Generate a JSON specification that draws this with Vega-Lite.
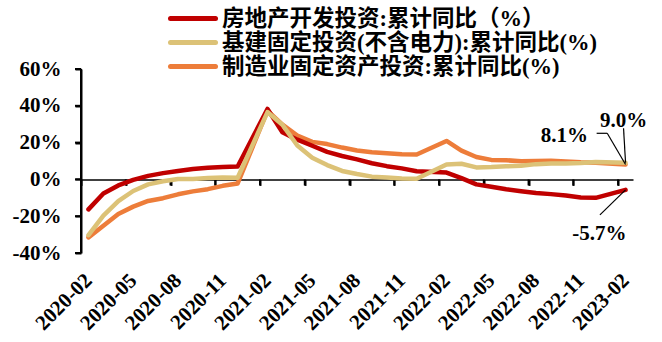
{
  "$schema": "https://vega.github.io/schema/vega-lite/v6.json",
  "width": 552,
  "height": 184,
  "autosize": {"type": "none"},
  "padding": {"left": 81, "top": 69, "right": 29, "bottom": 89},
  "config": {
    "font": "Liberation Serif",
    "view": {"stroke": null},
    "axis": {"grid": false}
  },
  "data": {
    "values": [
      {"kind": "yspan", "month": "2020-02", "value": -40, "top": 60},
      {"kind": "ytick", "month": "2020-02", "value": -40},
      {"kind": "ytick", "month": "2020-02", "value": -20},
      {"kind": "ytick", "month": "2020-02", "value": 0},
      {"kind": "ytick", "month": "2020-02", "value": 20},
      {"kind": "ytick", "month": "2020-02", "value": 40},
      {"kind": "ytick", "month": "2020-02", "value": 60},
      {"kind": "xtick", "month": "2020-02", "value": 0},
      {"kind": "xtick", "month": "2020-05", "value": 0},
      {"kind": "xtick", "month": "2020-08", "value": 0},
      {"kind": "xtick", "month": "2020-11", "value": 0},
      {"kind": "xtick", "month": "2021-02", "value": 0},
      {"kind": "xtick", "month": "2021-05", "value": 0},
      {"kind": "xtick", "month": "2021-08", "value": 0},
      {"kind": "xtick", "month": "2021-11", "value": 0},
      {"kind": "xtick", "month": "2022-02", "value": 0},
      {"kind": "xtick", "month": "2022-05", "value": 0},
      {"kind": "xtick", "month": "2022-08", "value": 0},
      {"kind": "xtick", "month": "2022-11", "value": 0},
      {"kind": "xtick", "month": "2023-02", "value": 0},

      {"kind": "series", "series": "制造业固定资产投资:累计同比(%)", "month": "2020-02", "value": -31.5},
      {"kind": "series", "series": "制造业固定资产投资:累计同比(%)", "month": "2020-03", "value": -25.2},
      {"kind": "series", "series": "制造业固定资产投资:累计同比(%)", "month": "2020-04", "value": -18.8},
      {"kind": "series", "series": "制造业固定资产投资:累计同比(%)", "month": "2020-05", "value": -14.8},
      {"kind": "series", "series": "制造业固定资产投资:累计同比(%)", "month": "2020-06", "value": -11.7},
      {"kind": "series", "series": "制造业固定资产投资:累计同比(%)", "month": "2020-07", "value": -10.2},
      {"kind": "series", "series": "制造业固定资产投资:累计同比(%)", "month": "2020-08", "value": -8.1},
      {"kind": "series", "series": "制造业固定资产投资:累计同比(%)", "month": "2020-09", "value": -6.5},
      {"kind": "series", "series": "制造业固定资产投资:累计同比(%)", "month": "2020-10", "value": -5.3},
      {"kind": "series", "series": "制造业固定资产投资:累计同比(%)", "month": "2020-11", "value": -3.5},
      {"kind": "series", "series": "制造业固定资产投资:累计同比(%)", "month": "2020-12", "value": -2.2},
      {"kind": "series", "series": "制造业固定资产投资:累计同比(%)", "month": "2021-02", "value": 37.3},
      {"kind": "series", "series": "制造业固定资产投资:累计同比(%)", "month": "2021-03", "value": 29.8},
      {"kind": "series", "series": "制造业固定资产投资:累计同比(%)", "month": "2021-04", "value": 23.8},
      {"kind": "series", "series": "制造业固定资产投资:累计同比(%)", "month": "2021-05", "value": 20.4},
      {"kind": "series", "series": "制造业固定资产投资:累计同比(%)", "month": "2021-06", "value": 19.2},
      {"kind": "series", "series": "制造业固定资产投资:累计同比(%)", "month": "2021-07", "value": 17.3},
      {"kind": "series", "series": "制造业固定资产投资:累计同比(%)", "month": "2021-08", "value": 15.7},
      {"kind": "series", "series": "制造业固定资产投资:累计同比(%)", "month": "2021-09", "value": 14.8},
      {"kind": "series", "series": "制造业固定资产投资:累计同比(%)", "month": "2021-10", "value": 14.2},
      {"kind": "series", "series": "制造业固定资产投资:累计同比(%)", "month": "2021-11", "value": 13.7},
      {"kind": "series", "series": "制造业固定资产投资:累计同比(%)", "month": "2021-12", "value": 13.5},
      {"kind": "series", "series": "制造业固定资产投资:累计同比(%)", "month": "2022-02", "value": 20.9},
      {"kind": "series", "series": "制造业固定资产投资:累计同比(%)", "month": "2022-03", "value": 15.6},
      {"kind": "series", "series": "制造业固定资产投资:累计同比(%)", "month": "2022-04", "value": 12.2},
      {"kind": "series", "series": "制造业固定资产投资:累计同比(%)", "month": "2022-05", "value": 10.6},
      {"kind": "series", "series": "制造业固定资产投资:累计同比(%)", "month": "2022-06", "value": 10.4},
      {"kind": "series", "series": "制造业固定资产投资:累计同比(%)", "month": "2022-07", "value": 9.9},
      {"kind": "series", "series": "制造业固定资产投资:累计同比(%)", "month": "2022-08", "value": 10.0},
      {"kind": "series", "series": "制造业固定资产投资:累计同比(%)", "month": "2022-09", "value": 10.1},
      {"kind": "series", "series": "制造业固定资产投资:累计同比(%)", "month": "2022-10", "value": 9.7},
      {"kind": "series", "series": "制造业固定资产投资:累计同比(%)", "month": "2022-11", "value": 9.3},
      {"kind": "series", "series": "制造业固定资产投资:累计同比(%)", "month": "2022-12", "value": 9.1},
      {"kind": "series", "series": "制造业固定资产投资:累计同比(%)", "month": "2023-02", "value": 8.1},

      {"kind": "series", "series": "房地产开发投资:累计同比（%）", "month": "2020-02", "value": -16.3},
      {"kind": "series", "series": "房地产开发投资:累计同比（%）", "month": "2020-03", "value": -7.7},
      {"kind": "series", "series": "房地产开发投资:累计同比（%）", "month": "2020-04", "value": -3.3},
      {"kind": "series", "series": "房地产开发投资:累计同比（%）", "month": "2020-05", "value": -0.3},
      {"kind": "series", "series": "房地产开发投资:累计同比（%）", "month": "2020-06", "value": 1.9},
      {"kind": "series", "series": "房地产开发投资:累计同比（%）", "month": "2020-07", "value": 3.4},
      {"kind": "series", "series": "房地产开发投资:累计同比（%）", "month": "2020-08", "value": 4.6},
      {"kind": "series", "series": "房地产开发投资:累计同比（%）", "month": "2020-09", "value": 5.6},
      {"kind": "series", "series": "房地产开发投资:累计同比（%）", "month": "2020-10", "value": 6.3},
      {"kind": "series", "series": "房地产开发投资:累计同比（%）", "month": "2020-11", "value": 6.8},
      {"kind": "series", "series": "房地产开发投资:累计同比（%）", "month": "2020-12", "value": 7.0},
      {"kind": "series", "series": "房地产开发投资:累计同比（%）", "month": "2021-02", "value": 38.3},
      {"kind": "series", "series": "房地产开发投资:累计同比（%）", "month": "2021-03", "value": 25.6},
      {"kind": "series", "series": "房地产开发投资:累计同比（%）", "month": "2021-04", "value": 21.6},
      {"kind": "series", "series": "房地产开发投资:累计同比（%）", "month": "2021-05", "value": 18.3},
      {"kind": "series", "series": "房地产开发投资:累计同比（%）", "month": "2021-06", "value": 15.0},
      {"kind": "series", "series": "房地产开发投资:累计同比（%）", "month": "2021-07", "value": 12.7},
      {"kind": "series", "series": "房地产开发投资:累计同比（%）", "month": "2021-08", "value": 10.9},
      {"kind": "series", "series": "房地产开发投资:累计同比（%）", "month": "2021-09", "value": 8.8},
      {"kind": "series", "series": "房地产开发投资:累计同比（%）", "month": "2021-10", "value": 7.2},
      {"kind": "series", "series": "房地产开发投资:累计同比（%）", "month": "2021-11", "value": 6.0},
      {"kind": "series", "series": "房地产开发投资:累计同比（%）", "month": "2021-12", "value": 4.4},
      {"kind": "series", "series": "房地产开发投资:累计同比（%）", "month": "2022-02", "value": 3.7},
      {"kind": "series", "series": "房地产开发投资:累计同比（%）", "month": "2022-03", "value": 0.7},
      {"kind": "series", "series": "房地产开发投资:累计同比（%）", "month": "2022-04", "value": -2.7},
      {"kind": "series", "series": "房地产开发投资:累计同比（%）", "month": "2022-05", "value": -4.0},
      {"kind": "series", "series": "房地产开发投资:累计同比（%）", "month": "2022-06", "value": -5.4},
      {"kind": "series", "series": "房地产开发投资:累计同比（%）", "month": "2022-07", "value": -6.4},
      {"kind": "series", "series": "房地产开发投资:累计同比（%）", "month": "2022-08", "value": -7.4},
      {"kind": "series", "series": "房地产开发投资:累计同比（%）", "month": "2022-09", "value": -8.0},
      {"kind": "series", "series": "房地产开发投资:累计同比（%）", "month": "2022-10", "value": -8.8},
      {"kind": "series", "series": "房地产开发投资:累计同比（%）", "month": "2022-11", "value": -9.8},
      {"kind": "series", "series": "房地产开发投资:累计同比（%）", "month": "2022-12", "value": -10.0},
      {"kind": "series", "series": "房地产开发投资:累计同比（%）", "month": "2023-02", "value": -5.7},

      {"kind": "series", "series": "基建固定投资(不含电力):累计同比(%)", "month": "2020-02", "value": -30.3},
      {"kind": "series", "series": "基建固定投资(不含电力):累计同比(%)", "month": "2020-03", "value": -19.7},
      {"kind": "series", "series": "基建固定投资(不含电力):累计同比(%)", "month": "2020-04", "value": -11.8},
      {"kind": "series", "series": "基建固定投资(不含电力):累计同比(%)", "month": "2020-05", "value": -6.3},
      {"kind": "series", "series": "基建固定投资(不含电力):累计同比(%)", "month": "2020-06", "value": -2.7},
      {"kind": "series", "series": "基建固定投资(不含电力):累计同比(%)", "month": "2020-07", "value": -1.0},
      {"kind": "series", "series": "基建固定投资(不含电力):累计同比(%)", "month": "2020-08", "value": 0.2},
      {"kind": "series", "series": "基建固定投资(不含电力):累计同比(%)", "month": "2020-09", "value": 0.2},
      {"kind": "series", "series": "基建固定投资(不含电力):累计同比(%)", "month": "2020-10", "value": 0.7},
      {"kind": "series", "series": "基建固定投资(不含电力):累计同比(%)", "month": "2020-11", "value": 1.0},
      {"kind": "series", "series": "基建固定投资(不含电力):累计同比(%)", "month": "2020-12", "value": 0.9},
      {"kind": "series", "series": "基建固定投资(不含电力):累计同比(%)", "month": "2021-02", "value": 36.6},
      {"kind": "series", "series": "基建固定投资(不含电力):累计同比(%)", "month": "2021-03", "value": 29.7},
      {"kind": "series", "series": "基建固定投资(不含电力):累计同比(%)", "month": "2021-04", "value": 18.4},
      {"kind": "series", "series": "基建固定投资(不含电力):累计同比(%)", "month": "2021-05", "value": 11.8},
      {"kind": "series", "series": "基建固定投资(不含电力):累计同比(%)", "month": "2021-06", "value": 7.8},
      {"kind": "series", "series": "基建固定投资(不含电力):累计同比(%)", "month": "2021-07", "value": 4.6},
      {"kind": "series", "series": "基建固定投资(不含电力):累计同比(%)", "month": "2021-08", "value": 2.9},
      {"kind": "series", "series": "基建固定投资(不含电力):累计同比(%)", "month": "2021-09", "value": 1.5},
      {"kind": "series", "series": "基建固定投资(不含电力):累计同比(%)", "month": "2021-10", "value": 1.0},
      {"kind": "series", "series": "基建固定投资(不含电力):累计同比(%)", "month": "2021-11", "value": 0.5},
      {"kind": "series", "series": "基建固定投资(不含电力):累计同比(%)", "month": "2021-12", "value": 0.4},
      {"kind": "series", "series": "基建固定投资(不含电力):累计同比(%)", "month": "2022-02", "value": 8.1},
      {"kind": "series", "series": "基建固定投资(不含电力):累计同比(%)", "month": "2022-03", "value": 8.5},
      {"kind": "series", "series": "基建固定投资(不含电力):累计同比(%)", "month": "2022-04", "value": 6.5},
      {"kind": "series", "series": "基建固定投资(不含电力):累计同比(%)", "month": "2022-05", "value": 6.7},
      {"kind": "series", "series": "基建固定投资(不含电力):累计同比(%)", "month": "2022-06", "value": 7.1},
      {"kind": "series", "series": "基建固定投资(不含电力):累计同比(%)", "month": "2022-07", "value": 7.4},
      {"kind": "series", "series": "基建固定投资(不含电力):累计同比(%)", "month": "2022-08", "value": 8.3},
      {"kind": "series", "series": "基建固定投资(不含电力):累计同比(%)", "month": "2022-09", "value": 8.6},
      {"kind": "series", "series": "基建固定投资(不含电力):累计同比(%)", "month": "2022-10", "value": 8.7},
      {"kind": "series", "series": "基建固定投资(不含电力):累计同比(%)", "month": "2022-11", "value": 8.9},
      {"kind": "series", "series": "基建固定投资(不含电力):累计同比(%)", "month": "2022-12", "value": 9.4},
      {"kind": "series", "series": "基建固定投资(不含电力):累计同比(%)", "month": "2023-02", "value": 9.0}
    ]
  },
  "encoding": {
    "x": {
      "field": "month", "type": "ordinal",
      "scale": {
        "type": "point", "padding": 0.5,
        "domain": ["2020-02","2020-03","2020-04","2020-05","2020-06","2020-07","2020-08","2020-09","2020-10","2020-11","2020-12",
                   "2021-01","2021-02","2021-03","2021-04","2021-05","2021-06","2021-07","2021-08","2021-09","2021-10","2021-11","2021-12",
                   "2022-01","2022-02","2022-03","2022-04","2022-05","2022-06","2022-07","2022-08","2022-09","2022-10","2022-11","2022-12",
                   "2023-01","2023-02"]
      },
      "axis": {
        "orient": "bottom", "offset": -73.6, "title": null,
        "values": ["2020-02","2020-05","2020-08","2020-11","2021-02","2021-05","2021-08","2021-11","2022-02","2022-05","2022-08","2022-11","2023-02"],
        "domain": true, "domainColor": "#000000", "domainWidth": 1.5,
        "ticks": true, "tickColor": "#000000", "tickWidth": 2, "tickSize": 6,
        "tickOffset": -7.46, "labelOffset": 7.46,
        "labelAngle": -45, "labelAlign": "right", "labelBaseline": "middle", "labelPadding": 91.6,
        "labelFont": "Liberation Serif", "labelFontSize": 21, "labelFontWeight": "bold", "labelColor": "black",
        "labelOverlap": false, "labelBound": false
      }
    },
    "y": {
      "field": "value", "type": "quantitative",
      "scale": {"domain": [-40, 60], "nice": false, "zero": false},
      "axis": {
        "title": null, "values": [-40, -20, 0, 20, 40, 60],
        "labelExpr": "datum.value + '%'",
        "domain": true, "domainColor": "#000000", "domainWidth": 2,
        "ticks": true, "tickColor": "#000000", "tickSize": 6, "tickWidth": 2,
        "labelOverlap": false, "labelBound": false, "labelPadding": 14,
        "labelFont": "Liberation Serif", "labelFontSize": 21, "labelFontWeight": "bold", "labelColor": "black"
      }
    }
  },
  "layer": [
    {
      "transform": [{"filter": "datum.kind == 'yspan'"}],
      "mark": {"type": "rule", "stroke": "black", "strokeWidth": 2, "xOffset": -7.46},
      "encoding": {"y2": {"field": "top"}}
    },
    {
      "transform": [{"filter": "datum.kind == 'ytick'"}],
      "mark": {"type": "rule", "stroke": "black", "strokeWidth": 2, "xOffset": -13.46, "x2Offset": -7.46},
      "encoding": {"x2": {"field": "month"}}
    },
    {
      "transform": [{"filter": "datum.kind == 'xtick'"}],
      "mark": {"type": "rule", "stroke": "black", "strokeWidth": 2, "xOffset": -7.46, "y2Offset": 6},
      "encoding": {"y2": {"field": "value"}}
    },
    {
      "transform": [{"filter": "datum.kind == 'series'"}],
      "mark": {"type": "line", "strokeWidth": 4.5, "strokeCap": "round", "strokeJoin": "round"},
      "encoding": {
        "color": {
          "field": "series", "type": "nominal",
          "scale": {
            "domain": ["房地产开发投资:累计同比（%）", "基建固定投资(不含电力):累计同比(%)", "制造业固定资产投资:累计同比(%)"],
            "range": ["#C00000", "#DCC277", "#ED7D3A"]
          },
          "legend": {
            "orient": "none", "legendX": 99.5, "legendY": -63, "title": null, "padding": 0,
            "symbolType": "M-2.25,0H2.25", "symbolSize": 400, "symbolStrokeWidth": 5,
            "labelFont": "Liberation Serif, Noto Sans CJK SC", "labelFontSize": 22.5, "labelFontWeight": "bold",
            "labelColor": "black", "labelOffset": 16.5, "labelLimit": 0, "rowPadding": -1.2,
            "encode": {"symbols": {"update": {"strokeCap": {"value": "round"}}}}
          }
        }
      }
    },
    {
      "transform": [{"filter": "datum.kind == 'series' && datum.month == '2023-02' && datum.value < 0"}],
      "mark": {"type": "rule", "stroke": "black", "strokeWidth": 1.2, "x2Offset": -25.6, "y2Offset": 25},
      "encoding": {"x2": {"field": "month"}, "y2": {"field": "value"}}
    },
    {
      "transform": [{"filter": "datum.kind == 'series' && datum.month == '2023-02' && datum.value > 8.5"}],
      "mark": {"type": "rule", "stroke": "black", "strokeWidth": 1.2, "x2Offset": -2, "y2Offset": -34.5},
      "encoding": {"x2": {"field": "month"}, "y2": {"field": "value"}}
    },
    {
      "transform": [{"filter": "datum.kind == 'series' && datum.month == '2023-02' && datum.value > 0 && datum.value < 8.5"}],
      "mark": {"type": "rule", "stroke": "black", "strokeWidth": 1.2, "x2Offset": -18.3, "y2Offset": -31.2},
      "encoding": {"x2": {"field": "month"}, "y2": {"field": "value"}}
    },
    {
      "transform": [{"filter": "datum.kind == 'series' && datum.month == '2023-02' && datum.value > 0 && datum.value < 8.5"}],
      "mark": {"type": "rule", "stroke": "black", "strokeWidth": 1.2, "xOffset": -18.3, "yOffset": -31.2, "x2Offset": -28.9, "y2Offset": -31.2},
      "encoding": {"x2": {"field": "month"}, "y2": {"field": "value"}}
    },
    {
      "transform": [
        {"filter": "datum.kind == 'series' && datum.month == '2023-02' && datum.value > 8.5"},
        {"calculate": "replace(format(datum.value, '.1f'), '\u2212', '-') + '%'", "as": "label"}
      ],
      "mark": {"type": "text", "font": "Liberation Serif", "fontSize": 21, "fontWeight": "bold", "color": "black", "align": "center", "baseline": "alphabetic", "dx": -2, "dy": -36},
      "encoding": {"text": {"field": "label"}}
    },
    {
      "transform": [
        {"filter": "datum.kind == 'series' && datum.month == '2023-02' && datum.value > 0 && datum.value < 8.5"},
        {"calculate": "replace(format(datum.value, '.1f'), '\u2212', '-') + '%'", "as": "label"}
      ],
      "mark": {"type": "text", "font": "Liberation Serif", "fontSize": 21, "fontWeight": "bold", "color": "black", "align": "right", "baseline": "alphabetic", "dx": -37.6, "dy": -22.8},
      "encoding": {"text": {"field": "label"}}
    },
    {
      "transform": [
        {"filter": "datum.kind == 'series' && datum.month == '2023-02' && datum.value < 0"},
        {"calculate": "replace(format(datum.value, '.1f'), '\u2212', '-') + '%'", "as": "label"}
      ],
      "mark": {"type": "text", "font": "Liberation Serif", "fontSize": 21, "fontWeight": "bold", "color": "black", "align": "right", "baseline": "alphabetic", "dx": 1, "dy": 50},
      "encoding": {"text": {"field": "label"}}
    }
  ]
}
